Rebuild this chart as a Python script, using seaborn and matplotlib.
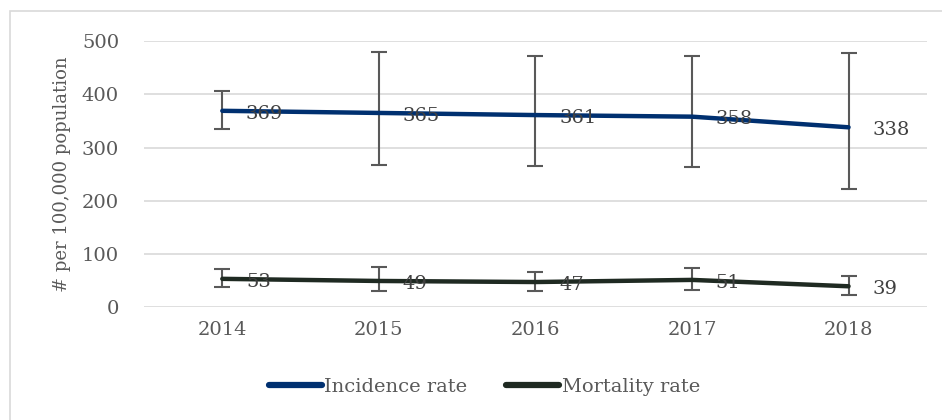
"""
Incidence and mortality rates 2014-2018
"""

#Packages:
import seaborn as sns
import matplotlib.pyplot as plt
import matplotlib.patches as mpatches
import pandas as pd

#-----------------------------------
#Data:
years = ['2014', '2015', '2016', '2017', '2018']
incidence = [369, 365, 361, 358, 338]
incidence_low = [335, 267, 266, 264, 222]
incidence_high = [407, 479, 472, 472, 477]
mortality = [53, 49, 47, 51, 39]
mortality_low = [38, 30, 30, 32, 23]
mortality_high = [71, 75, 66, 73, 59]

series_names = ['Incidence rate', 'Mortality rate']
colors = {'Incidence rate': '#003070', 'Mortality rate': '#1f2a22'}

df = pd.DataFrame({
    'year': years * 2,
    'rate': incidence + mortality,
    'low': incidence_low + mortality_low,
    'high': incidence_high + mortality_high,
    'series': [series_names[0]] * 5 + [series_names[1]] * 5,
})

#-----------------------------------
#Plot:
sns.set_style("white")
plt.rcParams['font.family'] = ['DejaVu Serif']

fig = plt.figure(figsize=(9.42, 4.2), dpi=100)
ax = fig.add_axes([0.1529, 0.269, 0.831, 0.633])

# outer chart border (only left and top are visible)
fig.patches.append(mpatches.Rectangle((10 / 942, -0.1), 1.2, 1 - 11 / 420 + 0.1,
                                      transform=fig.transFigure, fill=False,
                                      edgecolor='#d9d9d9', linewidth=1.2))

for name, group in df.groupby('series', sort=False):
    ax.errorbar(group['year'], group['rate'],
                yerr=[group['rate'] - group['low'], group['high'] - group['rate']],
                fmt='none', ecolor='#595959', elinewidth=1.5, capsize=5.5,
                capthick=1.5, zorder=2)

sns.lineplot(data=df, x='year', y='rate', hue='series', palette=colors,
             linewidth=3.2, sort=False, ax=ax, zorder=3)

for _, row in df.iterrows():
    ax.annotate(str(row['rate']), (row['year'], row['rate']),
                xytext=(17, -2), textcoords='offset points', ha='left', va='center',
                fontsize=14, color='#404040', zorder=4)

ax.set_xlim(-0.5, 4.5)
ax.set_ylim(0, 500)
ax.set_yticks(range(0, 501, 100))
ax.yaxis.grid(True, color='#d9d9d9', linewidth=1.2)
ax.xaxis.grid(False)
ax.set_axisbelow(True)
for s in ax.spines.values():
    s.set_visible(False)
ax.tick_params(axis='both', length=0, labelsize=14, labelcolor='#595959')
ax.tick_params(axis='y', pad=18)
ax.tick_params(axis='x', pad=10)
ax.set_xlabel('')
ax.set_ylabel('# per 100,000 population', fontsize=13, color='#595959', labelpad=8)

handles, labels = ax.get_legend_handles_labels()
ax.legend(handles, labels, loc='upper center', bbox_to_anchor=(0.435, -0.2),
          ncol=2, frameon=False, fontsize=14, labelcolor='#595959',
          handlelength=2.7, handletextpad=0.15, columnspacing=2.0)
for line in ax.get_legend().get_lines():
    line.set_linewidth(4.5)
    line.set_solid_capstyle('round')

fig.savefig('out.png', dpi=100)
